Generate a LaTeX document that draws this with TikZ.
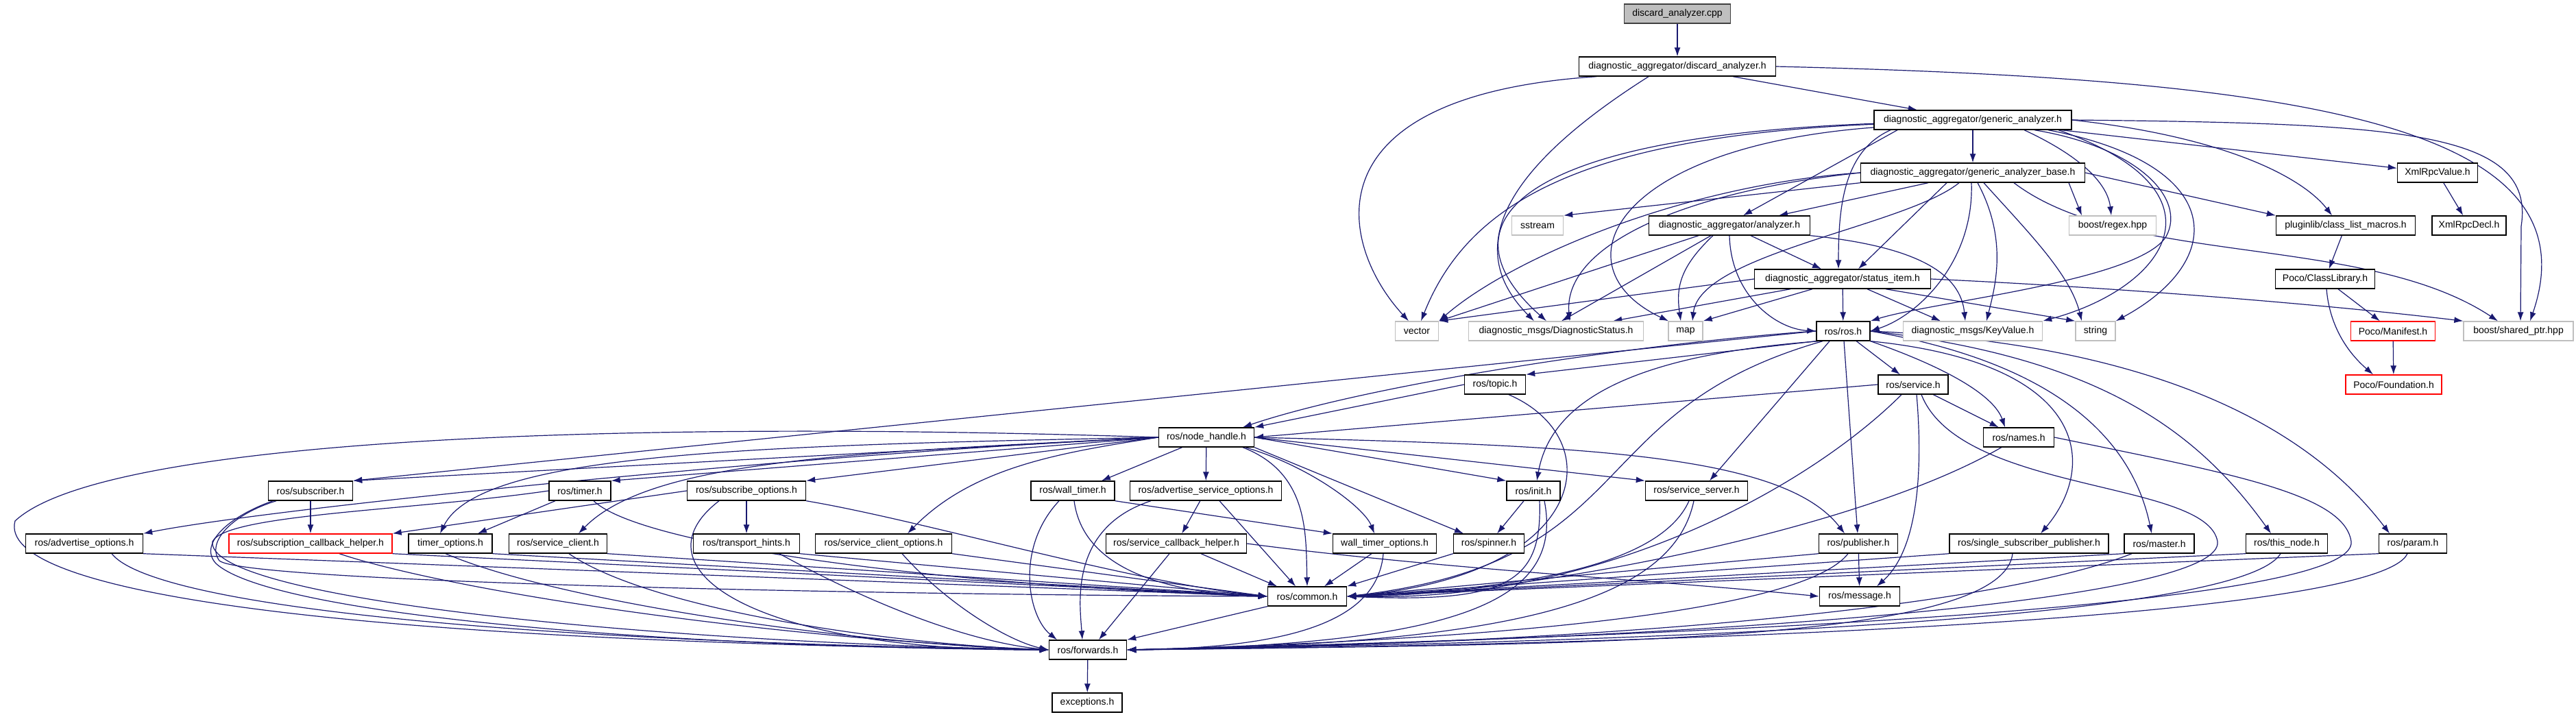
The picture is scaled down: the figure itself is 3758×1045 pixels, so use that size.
\documentclass[tikz,border=0pt]{standalone}
\usepackage{fontspec}
\setmainfont{Liberation Sans}
\usetikzlibrary{arrows.meta,backgrounds}
\definecolor{edgec}{HTML}{191970}
\definecolor{grayb}{HTML}{BFBFBF}
\definecolor{redb}{HTML}{FF0000}
\definecolor{topfill}{HTML}{BFBFBF}
\begin{document}
\begin{tikzpicture}[x=1pt,y=-1pt,
  nd/.style={draw=black, line width=1.4pt, minimum height=28pt, inner sep=0pt, fill=white, font=\fontsize{14}{16}\selectfont},
  sys/.style={nd, draw=grayb},
  rednd/.style={nd, draw=redb},
  e/.style={draw=edgec, line width=1.2pt, -{Latex[length=13pt,width=9pt]}}]
\useasboundingbox (0,0) rectangle (3758,1045);
% level 0-5
\node[nd, fill=topfill, draw=black!75, minimum width=155] (cpp) at (2447,20) {discard\_analyzer.cpp};
\node[nd, minimum width=287] (dah) at (2447,97) {diagnostic\_aggregator/discard\_analyzer.h};
\node[nd, minimum width=288] (gah) at (2878,175) {diagnostic\_aggregator/generic\_analyzer.h};
\node[nd, minimum width=327] (gabh) at (2878,252) {diagnostic\_aggregator/generic\_analyzer\_base.h};
\node[nd, minimum width=117] (xrv) at (3556,252) {XmlRpcValue.h};
\node[sys, minimum width=75] (sstream) at (2243,329) {sstream};
\node[nd, minimum width=235] (analyzer) at (2523,329) {diagnostic\_aggregator/analyzer.h};
\node[sys, minimum width=127] (regex) at (3082,329) {boost/regex.hpp};
\node[nd, minimum width=203] (clm) at (3422,329) {pluginlib/class\_list\_macros.h};
\node[nd, minimum width=108] (xrd) at (3602,329) {XmlRpcDecl.h};
\node[nd, minimum width=257] (sih) at (2688,407) {diagnostic\_aggregator/status\_item.h};
\node[nd, minimum width=145] (pcl) at (3392,407) {Poco/ClassLibrary.h};
% level 6
\node[sys, minimum width=63] (vector) at (2067,483) {vector};
\node[sys, minimum width=255] (dstat) at (2270,483) {diagnostic\_msgs/DiagnosticStatus.h};
\node[sys, minimum width=50] (map) at (2459,483) {map};
\node[nd, minimum width=78] (rosh) at (2689,483) {ros/ros.h};
\node[sys, minimum width=203] (kv) at (2878,483) {diagnostic\_msgs/KeyValue.h};
\node[sys, minimum width=58] (string) at (3057,483) {string};
\node[rednd, minimum width=123] (manifest) at (3491,483) {Poco/Manifest.h};
\node[sys, minimum width=160] (sptr) at (3674,483) {boost/shared\_ptr.hpp};
% level 7-8
\node[nd, minimum width=89] (topic) at (2181,561) {ros/topic.h};
\node[nd, minimum width=102] (service) at (2791,561) {ros/service.h};
\node[rednd, minimum width=140] (foundation) at (3492,561) {Poco/Foundation.h};
\node[nd, minimum width=139] (nh) at (1760,638) {ros/node\_handle.h};
\node[nd, minimum width=103] (names) at (2945,638) {ros/names.h};
% level 9
\node[nd, minimum width=123] (subscriber) at (453,716) {ros/subscriber.h};
\node[nd, minimum width=90] (timer) at (846,716) {ros/timer.h};
\node[nd, minimum width=173] (subopt) at (1089,716) {ros/subscribe\_options.h};
\node[nd, minimum width=122] (walltimer) at (1565,716) {ros/wall\_timer.h};
\node[nd, minimum width=221] (advsrvopt) at (1759,716) {ros/advertise\_service\_options.h};
\node[nd, minimum width=78] (init) at (2237,716) {ros/init.h};
\node[nd, minimum width=149] (srvserver) at (2475,716) {ros/service\_server.h};
% level 10
\node[nd, minimum width=171] (advopt) at (123,793) {ros/advertise\_options.h};
\node[rednd, minimum width=238] (sch) at (453,793) {ros/subscription\_callback\_helper.h};
\node[nd, minimum width=122] (timeropt) at (657,793) {timer\_options.h};
\node[nd, minimum width=143] (srvclient) at (814,793) {ros/service\_client.h};
\node[nd, minimum width=155] (transport) at (1089,793) {ros/transport\_hints.h};
\node[nd, minimum width=199] (srvclopt) at (1289,793) {ros/service\_client\_options.h};
\node[nd, minimum width=205] (srvcbh) at (1716,793) {ros/service\_callback\_helper.h};
\node[nd, minimum width=151] (wtopt) at (2020,793) {wall\_timer\_options.h};
\node[nd, minimum width=103] (spinner) at (2172,793) {ros/spinner.h};
\node[nd, minimum width=115] (publisher) at (2711,793) {ros/publisher.h};
\node[nd, minimum width=232] (ssp) at (2960,793) {ros/single\_subscriber\_publisher.h};
\node[nd, minimum width=102] (master) at (3150,793) {ros/master.h};
\node[nd, minimum width=119] (thisnode) at (3336,793) {ros/this\_node.h};
\node[nd, minimum width=99] (param) at (3520,793) {ros/param.h};
% level 11-13
\node[nd, minimum width=115] (common) at (1907,870) {ros/common.h};
\node[nd, minimum width=117] (message) at (2713,870) {ros/message.h};
\node[nd, minimum width=113] (forwards) at (1587,948) {ros/forwards.h};
\node[nd, minimum width=102] (exceptions) at (1586,1025) {exceptions.h};

\begin{scope}[on background layer]
\fill[white] (0,0) rectangle (3758,1045);
% top
\draw[e] (cpp) -- (dah);
\draw[e] (dah) -- (gah);
\draw[e] ([xshift=-118]dah.south) .. controls (1900,140) and (1955,360) .. ([xshift=-12]vector.north);
\draw[e] ([xshift=-42]dah.south) .. controls (2250,210) and (2110,340) .. ([xshift=-32]dstat.north);
\draw[e] (dah.east) .. controls (3350,115) and (3790,180) .. ([xshift=17]sptr.north);
% generic_analyzer.h
\draw[e] (gah) -- (gabh);
\draw[e] (gah) .. controls (2300,200) and (2140,300) .. ([xshift=6]vector.north);
\draw[e] (gah) .. controls (2200,200) and (2100,330) .. ([xshift=-14]dstat.north);
\draw[e] (gah) .. controls (2350,215) and (2270,390) .. ([xshift=-25]map.north);
\draw[e] ([xshift=-110]gah.south) -- ([xshift=20]analyzer.north);
\draw[e] ([xshift=-120]gah.south) .. controls (2690,220) and (2682,300) .. ([xshift=-6]sih.north);
\draw[e] ([xshift=90]gah.south) .. controls (3120,215) and (3190,290) .. (3160,345) .. controls (3120,410) and (2820,440) .. (rosh.north east);
\draw[e] ([xshift=75]gah.south) .. controls (3040,230) and (3075,270) .. ([xshift=-2]regex.north);
\draw[e] ([xshift=110]gah.south) .. controls (3250,240) and (3250,380) .. (string.north east);
\draw[e] ([xshift=125]gah.south) .. controls (3260,280) and (3160,420) .. (kv.north east);
\draw[e] (gah.east) .. controls (3250,200) and (3360,260) .. ([xshift=-20]clm.north);
\draw[e] (gah) -- (xrv);
\draw[e] (gah.east) .. controls (3500,180) and (3700,190) .. (3678,330) -- ([xshift=3]sptr.north);
% generic_analyzer_base.h
\draw[e] (gabh.south west) -- (sstream.north east);
\draw[e] (gabh.west) .. controls (2450,270) and (2200,380) .. (vector.north east);
\draw[e] (gabh.west) .. controls (2450,280) and (2280,360) .. ([xshift=20]dstat.north);
\draw[e] ([xshift=-20]gabh.south) .. controls (2780,330) and (2480,370) .. ([xshift=10]map.north);
\draw[e] ([xshift=-65]gabh.south) -- ([xshift=72]analyzer.north);
\draw[e] ([xshift=-38]gabh.south) -- ([xshift=23]sih.north);
\draw[e] ([xshift=-2]gabh.south) .. controls (2880,380) and (2800,460) .. (rosh.east);
\draw[e] ([xshift=7]gabh.south) .. controls (2930,350) and (2910,420) .. ([xshift=20]kv.north);
\draw[e] ([xshift=16]gabh.south) .. controls (2960,340) and (3020,400) .. ([xshift=-20]string.north);
\draw[e] ([xshift=140]gabh.south) -- ([xshift=-45]regex.north);
\draw[e] (gabh.east) -- (clm.north west);
\draw[e] ([xshift=60]gabh.south) .. controls (3100,390) and (3450,340) .. ([xshift=-30]sptr.north);
% analyzer.h
\draw[e] ([xshift=-45]analyzer.south) -- (vector.north east);
\draw[e] ([xshift=-27]analyzer.south) -- ([xshift=8]dstat.north);
\draw[e] ([xshift=-24]analyzer.south) .. controls (2450,390) and (2445,420) .. ([xshift=-7]map.north);
\draw[e] (analyzer.south) .. controls (2525,430) and (2590,480) .. (rosh.west);
\draw[e] ([xshift=31]analyzer.south) -- ([xshift=-31]sih.north);
\draw[e] (analyzer.south east) .. controls (2800,360) and (2860,400) .. ([xshift=-11]kv.north);
% status_item.h
\draw[e] (sih.west) -- (vector.north east);
\draw[e] ([xshift=-76]sih.south) -- ([xshift=-45]dstat.north east);
\draw[e] ([xshift=-44]sih.south) -- (map.north east);
\draw[e] (sih) -- (rosh);
\draw[e] ([xshift=36]sih.south) -- ([xshift=-47]kv.north);
\draw[e] ([xshift=63]sih.south) -- (string.north west);
\draw[e] (sih.east) .. controls (3100,420) and (3400,445) .. (sptr.north west);
% poco, xmlrpc
\draw[e] (clm) -- (pcl);
\draw[e] ([xshift=19]pcl.south) -- (manifest);
\draw[e] ([xshift=2]pcl.south) .. controls (3398,470) and (3420,510) .. ([xshift=-30]foundation.north);
\draw[e] (manifest) -- (foundation);
\draw[e] (xrv) -- (xrd);
% ros.h
\draw[e] (rosh.west) .. controls (2400,500) and (2000,560) .. ([xshift=53]nh.north);
\draw[e] (rosh.south west) -- (topic.north east);
\draw[e] (rosh.west) -- (subscriber.north east);
\draw[e] ([xshift=-30]rosh.south) .. controls (2300,600) and (2400,820) .. (common.east);
\draw[e] ([xshift=-35]rosh.south) .. controls (2350,520) and (2260,600) .. ([xshift=5]init.north);
\draw[e] ([xshift=-20]rosh.south) -- ([xshift=19]srvserver.north);
\draw[e] (rosh) -- (service);
\draw[e] (rosh) -- (publisher);
\draw[e] (rosh.south east) .. controls (2850,540) and (2910,580) .. ([xshift=-20]names.north);
\draw[e] (rosh.south east) .. controls (3050,530) and (3060,680) .. ([xshift=17]ssp.north);
\draw[e] (rosh.east) .. controls (3000,530) and (3110,640) .. ([xshift=-11]master.north);
\draw[e] (rosh.east) .. controls (3050,520) and (3200,620) .. ([xshift=-23]thisnode.north);
\draw[e] (rosh.east) .. controls (3100,500) and (3350,600) .. ([xshift=-34]param.north);
% topic.h, service.h, names.h
\draw[e] (topic.west) -- (nh.north east);
\draw[e] ([xshift=20]topic.south) .. controls (2350,640) and (2320,840) .. (common.east);
\draw[e] (service.west) -- (nh.east);
\draw[e] ([xshift=-17]service.south) .. controls (2650,700) and (2350,880) .. (common.east);
\draw[e] ([xshift=5]service.south) .. controls (2805,680) and (2800,800) .. ([xshift=25]message.north);
\draw[e] ([xshift=12]service.south) .. controls (2860,720) and (3220,700) .. (3235,790) .. controls (3245,870) and (2600,930) .. (forwards.east);
\draw[e] (service) -- (names);
\draw[e] (names) .. controls (2700,780) and (2200,870) .. (common.east);
\draw[e] (names.east) .. controls (3250,690) and (3420,720) .. (3430,790) .. controls (3440,880) and (2600,925) .. (forwards.east);
% node_handle.h
\draw[e] (nh) -- ([xshift=42]walltimer.north);
\draw[e] (nh) -- (advsrvopt);
\draw[e] ([xshift=53]nh.south) .. controls (1910,690) and (1905,780) .. (common.north);
\draw[e] ([xshift=57]nh.south) .. controls (1910,680) and (1990,740) .. ([xshift=-15]wtopt.north);
\draw[e] (nh.south east) -- ([xshift=-37]spinner.north);
\draw[e] (nh.east) -- (init.north west);
\draw[e] (nh.east) -- (srvserver.north west);
\draw[e] (nh.east) .. controls (2300,650) and (2600,660) .. ([xshift=-20]publisher.north);
\draw[e] (nh.west) -- (subscriber.north east);
\draw[e] (nh.west) -- (timer.north east);
\draw[e] (nh.west) -- (subopt.north east);
\draw[e] (nh.west) .. controls (1200,660) and (400,740) .. (advopt.north east);
\draw[e] (nh.west) .. controls (1100,650) and (700,660) .. ([xshift=-15]timeropt.north);
\draw[e] (nh.west) .. controls (1250,660) and (950,670) .. ([xshift=30]srvclient.north);
\draw[e] (nh.west) .. controls (1550,660) and (1420,680) .. ([xshift=35]srvclopt.north);
\draw[e] (nh.west) .. controls (900,612) and (150,640) .. (22,760) .. controls (-5,860) and (450,935) .. (forwards.west);
% level 9 sources
\draw[e] (subscriber) -- (sch);
\draw[e] ([xshift=-50]subscriber.south) .. controls (340,750) and (300,790) .. (320,818) .. controls (360,850) and (1300,868) .. (common.west);
\draw[e] ([xshift=-55]subscriber.south) .. controls (330,755) and (290,795) .. (315,822) .. controls (400,900) and (1000,945) .. (forwards.west);
\draw[e] ([xshift=-36]timer.south) -- ([xshift=40]timeropt.north);
\draw[e] ([xshift=20]timer.south) .. controls (940,800) and (1400,855) .. (common.west);
\draw[e] (timer.west) .. controls (600,745) and (330,750) .. (310,790) .. controls (300,870) and (900,935) .. (forwards.west);
\draw[e] (subopt.west) -- (sch.north east);
\draw[e] (subopt) -- (transport);
\draw[e] (subopt.south east) .. controls (1350,760) and (1650,850) .. (common.west);
\draw[e] ([xshift=-40]subopt.south) .. controls (920,830) and (1100,950) .. (forwards.west);
\draw[e] (walltimer.south east) -- (wtopt.north west);
\draw[e] ([xshift=2]walltimer.south) .. controls (1580,830) and (1700,865) .. (common.west);
\draw[e] ([xshift=-20]walltimer.south) .. controls (1480,800) and (1500,900) .. ([xshift=-45]forwards.north);
\draw[e] (advsrvopt) -- (srvcbh);
\draw[e] ([xshift=20]advsrvopt.south) -- ([xshift=-17]common.north);
\draw[e] ([xshift=-80]advsrvopt.south) .. controls (1560,770) and (1575,880) .. ([xshift=-8]forwards.north);
\draw[e] ([xshift=-14]init.south) -- (spinner);
\draw[e] ([xshift=9]init.south) .. controls (2250,850) and (2200,880) .. (common.east);
\draw[e] ([xshift=16]init.south) .. controls (2280,870) and (2150,940) .. (forwards.east);
\draw[e] ([xshift=-11]srvserver.south) .. controls (2420,830) and (2200,860) .. (common.east);
\draw[e] ([xshift=-4]srvserver.south) .. controls (2440,880) and (2200,940) .. (forwards.east);
% level 10 sources
\draw[e] (advopt.south east) -- (common.west);
\draw[e] ([xshift=40]advopt.south) .. controls (220,880) and (700,935) .. (forwards.west);
\draw[e] (sch.south east) -- (common.west);
\draw[e] ([xshift=42]sch.south) .. controls (650,860) and (1100,930) .. (forwards.west);
\draw[e] (timeropt.south east) -- (common.west);
\draw[e] ([xshift=-7]timeropt.south) .. controls (820,880) and (1250,940) .. (forwards.west);
\draw[e] (srvclient.south east) -- (common.west);
\draw[e] ([xshift=16]srvclient.south) .. controls (950,890) and (1300,940) .. (forwards.west);
\draw[e] (transport.south east) -- (common.west);
\draw[e] ([xshift=48]transport.south) .. controls (1250,870) and (1400,935) .. (forwards.west);
\draw[e] (srvclopt.south east) -- (common.west);
\draw[e] ([xshift=27]srvclopt.south) .. controls (1380,880) and (1470,935) .. (forwards.west);
\draw[e] ([xshift=-10]srvcbh.south) -- ([xshift=16]forwards.north);
\draw[e] ([xshift=36]srvcbh.south) -- ([xshift=-44]common.north);
\draw[e] (srvcbh.east) .. controls (2100,830) and (2400,845) .. (message.west);
\draw[e] ([xshift=-19]wtopt.south) -- ([xshift=25]common.north);
\draw[e] ([xshift=-2]wtopt.south) .. controls (2010,900) and (1900,945) .. (forwards.east);
\draw[e] (spinner.south west) -- (common.north east);
\draw[e] (publisher.south west) -- (common.east);
\draw[e] ([xshift=-15]publisher.south) .. controls (2640,880) and (2300,930) .. (forwards.east);
\draw[e] (publisher) -- (message);
\draw[e] (ssp.south west) -- (common.east);
\draw[e] ([xshift=-24]ssp.south) .. controls (2920,940) and (2300,940) .. (forwards.east);
\draw[e] (master.south west) -- (common.east);
\draw[e] ([xshift=-40]master.south) .. controls (2900,890) and (2300,940) .. (forwards.east);
\draw[e] (thisnode.south west) -- (common.east);
\draw[e] ([xshift=-9]thisnode.south) .. controls (3270,900) and (2500,935) .. (forwards.east);
\draw[e] (param.south west) -- (common.east);
\draw[e] ([xshift=-8]param.south) .. controls (3470,900) and (2500,940) .. (forwards.east);
% bottom
\draw[e] (common.south west) -- (forwards.north east);
\draw[e] (forwards) -- (exceptions);
\end{scope}
\end{tikzpicture}
\end{document}
